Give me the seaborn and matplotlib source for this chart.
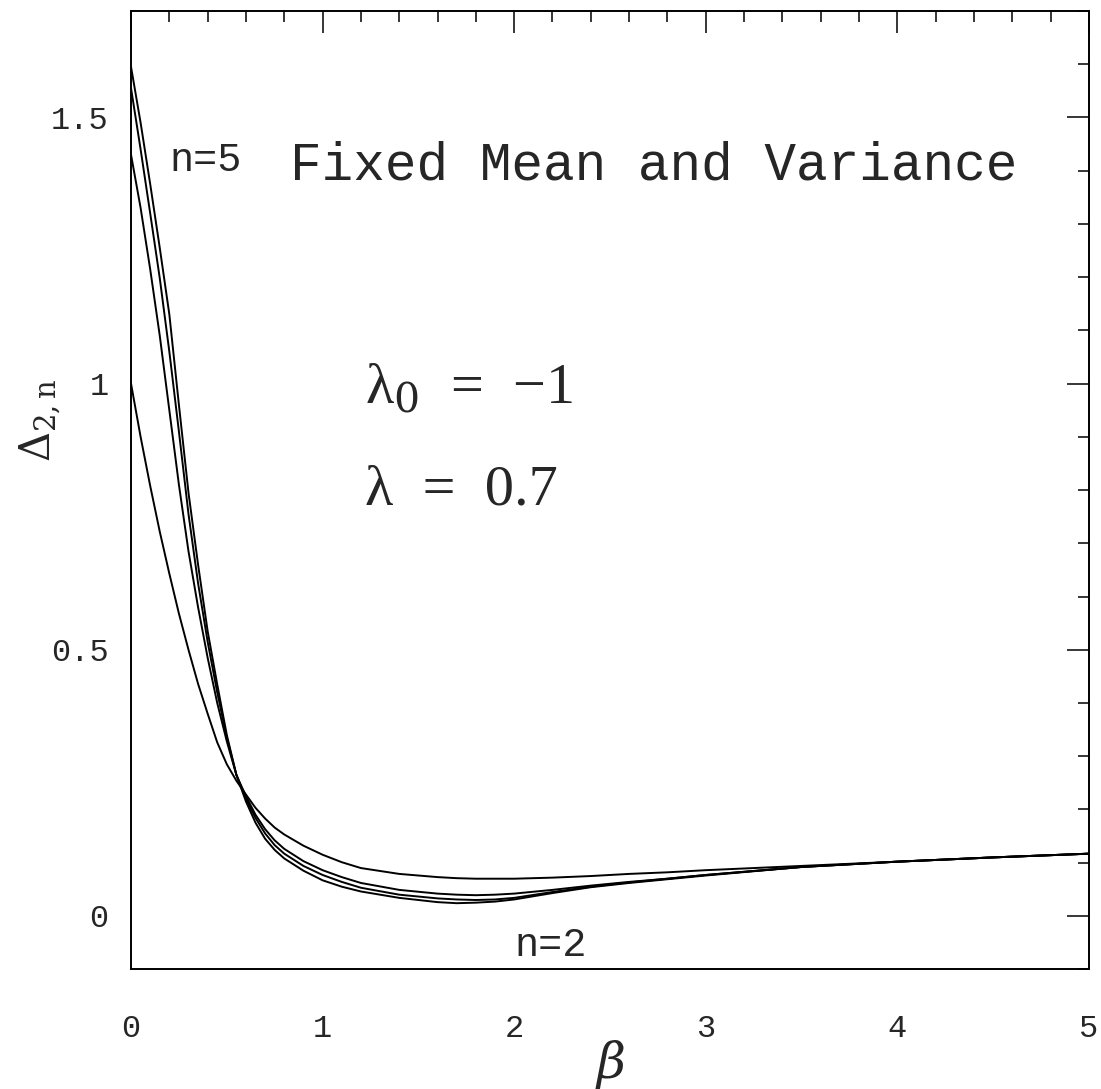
import numpy as np
import pandas as pd
import matplotlib
matplotlib.use("Agg")
import matplotlib.pyplot as plt
from matplotlib.ticker import MultipleLocator
import seaborn as sns

# beta grid
beta = [0.0, 0.05, 0.1, 0.15, 0.2, 0.25, 0.3, 0.35, 0.4, 0.45, 0.5, 0.55, 0.6,
        0.65, 0.7, 0.75, 0.8, 0.9, 1.0, 1.1, 1.2, 1.4, 1.6, 1.7, 1.8, 1.9, 2.0,
        2.2, 2.4, 2.6, 2.8, 3.0, 3.5, 4.0, 4.5, 5.0]

curve_a = [1.595, 1.49, 1.375, 1.255, 1.13, 0.96, 0.795, 0.66, 0.535, 0.435, 0.34, 0.265, 0.215,
           0.175, 0.145, 0.124, 0.108, 0.085, 0.067, 0.055, 0.046, 0.034, 0.026, 0.024, 0.025, 0.027, 0.031,
           0.043, 0.054, 0.062, 0.069, 0.076, 0.092, 0.102, 0.110, 0.117]
curve_b = [1.555, 1.44, 1.32, 1.198, 1.06, 0.91, 0.755, 0.625, 0.515, 0.42, 0.335, 0.265, 0.22,
           0.184, 0.155, 0.133, 0.117, 0.094, 0.077, 0.064, 0.053, 0.040, 0.033, 0.031, 0.030, 0.031, 0.034,
           0.045, 0.055, 0.063, 0.070, 0.077, 0.092, 0.102, 0.110, 0.117]
curve_c = [1.43, 1.33, 1.215, 1.09, 0.95, 0.81, 0.685, 0.58, 0.485, 0.40, 0.328, 0.265, 0.225,
           0.19, 0.163, 0.142, 0.126, 0.103, 0.086, 0.073, 0.062, 0.049, 0.042, 0.040, 0.039, 0.040, 0.042,
           0.049, 0.057, 0.064, 0.070, 0.077, 0.092, 0.102, 0.110, 0.117]
curve_d = [1.0, 0.90, 0.808, 0.722, 0.643, 0.568, 0.50, 0.436, 0.38, 0.326, 0.285, 0.254, 0.228,
           0.203, 0.183, 0.166, 0.153, 0.132, 0.115, 0.101, 0.090, 0.079, 0.073, 0.071, 0.070, 0.070, 0.070,
           0.072, 0.075, 0.079, 0.082, 0.086, 0.094, 0.102, 0.110, 0.117]

curve_names = ["a", "b", "c", "d"]

x_ticks = [0, 1, 2, 3, 4, 5]
x_tick_labels = ["0", "1", "2", "3", "4", "5"]
y_ticks = [0, 0.5, 1, 1.5]
y_tick_labels = ["0", "0.5", "1", "1.5"]

frames = []
for name, vals in zip(curve_names, [curve_a, curve_b, curve_c, curve_d]):
    frames.append(pd.DataFrame({"beta": beta, "delta": vals, "curve": name}))
df = pd.concat(frames, ignore_index=True)

sns.set_theme(style="white")
plt.rcParams["font.family"] = ["Liberation Mono", "DejaVu Sans"]
plt.rcParams["mathtext.fontset"] = "dejavuserif"

fig = plt.figure(figsize=(11.01, 10.89), dpi=100)
ax = fig.add_axes([0.119, 0.110, 0.870, 0.880])

sns.lineplot(data=df, x="beta", y="delta", hue="curve",
             palette=["black"] * 4, legend=False, linewidth=1.4, ax=ax,
             sort=False, estimator=None)

ax.set_xlim(0, 5)
ax.set_ylim(-0.1, 1.7)
ax.set_xticks(x_ticks)
ax.set_xticklabels(x_tick_labels)
ax.set_yticks(y_ticks)
ax.set_yticklabels(y_tick_labels)
ax.xaxis.set_minor_locator(MultipleLocator(0.2))
ax.yaxis.set_minor_locator(MultipleLocator(0.1))
ax.tick_params(which="both", direction="in", top=True, right=True,
               color="black", width=1.1)
ax.tick_params(which="major", length=16, labelsize=23)
ax.tick_params(axis="x", which="major", pad=32)
ax.tick_params(axis="y", which="major", pad=16)
ax.tick_params(which="minor", length=8)
for sp in ax.spines.values():
    sp.set_color("black")
    sp.set_linewidth(1.4)

ax.set_xlabel(r"$\beta$", fontsize=36)
ax.xaxis.set_label_coords(0.50, -0.072)
ax.set_ylabel(r"$\Delta_{2,\mathrm{n}}$", fontsize=30)
ax.yaxis.set_label_coords(-0.070, 0.573)

ax.text(0.83, 1.41, "Fixed Mean and Variance", fontsize=38,
        ha="left", va="center", family="Liberation Mono")
ax.text(1.22, 0.99, r"λ$_0$  =  −1", fontsize=42, ha="left", va="center",
        family=["Liberation Serif", "DejaVu Serif"])
ax.text(1.22, 0.80, "λ  =  0.7", fontsize=42, ha="left", va="center",
        family=["Liberation Serif", "DejaVu Serif"])
ax.text(0.20, 1.42, "n=5", fontsize=29, ha="left", va="center")
ax.text(2.0, -0.055, "n=2", fontsize=29, ha="left", va="center")

fig.savefig("out.png", dpi=100, facecolor="white")
